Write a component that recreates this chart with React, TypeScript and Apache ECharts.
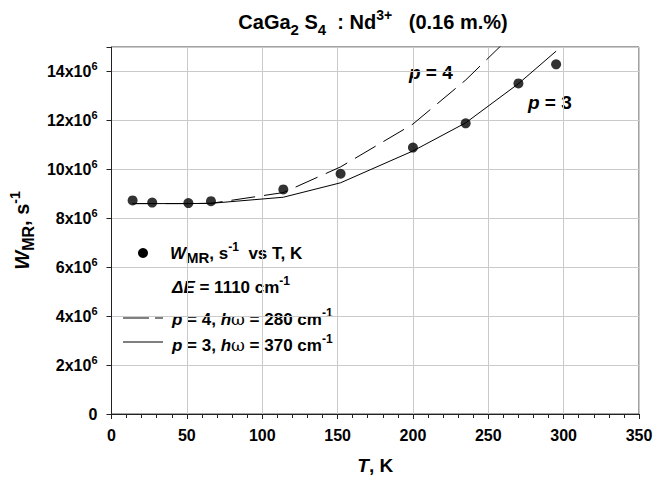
import React, { useEffect, useRef } from "react";
import * as echarts from "echarts";

const FONT = '"Liberation Sans", Arial, Helvetica, sans-serif';

// Measured points: T (K) and W_MR (s^-1)
const tempK = [14, 27, 51, 66, 114, 152, 200, 235, 270, 295];
const wMR = [8.73e6, 8.64e6, 8.62e6, 8.7e6, 9.18e6, 9.82e6, 10.89e6, 11.88e6, 13.51e6, 14.29e6];

// Fit curve p = 3 (solid)
const p3T = [14, 27, 51, 66, 114, 152, 200, 235, 270, 295];
const p3W = [8.6e6, 8.6e6, 8.6e6, 8.61e6, 8.86e6, 9.45e6, 10.75e6, 11.9e6, 13.5e6, 14.83e6];

// Fit curve p = 4 (dashed)
const p4T = [14, 27, 51, 66, 114, 152, 200, 235, 270];
const p4W = [8.6e6, 8.6e6, 8.6e6, 8.61e6, 9.05e6, 10.1e6, 11.85e6, 13.65e6, 15.75e6];

const xTicks = [0, 50, 100, 150, 200, 250, 300, 350];
const yTickStep = 2e6;

const pairs = (xs: number[], ys: number[]) => xs.map((x, i) => [x, ys[i]]);

const bold = { fontFamily: FONT, fontWeight: "bold" as const, color: "#000" };

export default function App() {
  const ref = useRef<HTMLDivElement>(null);

  useEffect(() => {
    if (!ref.current) return;
    const chart = echarts.init(ref.current, undefined, { renderer: "svg" });

    const legRich = {
      n: { ...bold, fontSize: 17, lineHeight: 24, verticalAlign: "middle" },
      i: { ...bold, fontStyle: "italic", fontSize: 17, lineHeight: 24, verticalAlign: "middle" },
      w: { fontFamily: "DejaVu Serif, serif", color: "#000", fontSize: 17, lineHeight: 24, verticalAlign: "middle" },
      sub: { ...bold, fontSize: 15, lineHeight: 12, verticalAlign: "bottom" },
      sup: { ...bold, fontSize: 12, lineHeight: 15, verticalAlign: "top" },
    };

    chart.setOption({
      animation: false,
      backgroundColor: "#fff",
      grid: {
        left: 107,
        right: 28,
        top: 47,
        bottom: 61,
        show: true,
        borderColor: "#444",
        borderWidth: 1,
        backgroundColor: "transparent",
      },
      xAxis: {
        type: "value",
        min: xTicks[0],
        max: xTicks[xTicks.length - 1],
        interval: 50,
        name: "{i|T}{n|, K}",
        nameLocation: "middle",
        nameGap: 42,
        nameTextStyle: {
          rich: {
            i: { ...bold, fontStyle: "italic", fontSize: 19 },
            n: { ...bold, fontSize: 19 },
          },
        },
        axisLine: { show: true, lineStyle: { color: "#222", width: 1 } },
        axisTick: { show: true, inside: false, length: 5, lineStyle: { color: "#222" } },
        minorTick: { show: true, splitNumber: 5, length: 4, lineStyle: { color: "#222" } },
        axisLabel: { ...bold, fontSize: 16, margin: 13 },
        splitLine: { show: true, lineStyle: { color: "#cacaca", width: 1 } },
      },
      yAxis: {
        type: "value",
        min: 0,
        max: 15e6,
        interval: yTickStep,
        name: "{i|W}{sub|MR}{n|, s}{sup|-1}",
        nameLocation: "middle",
        nameRotate: 90,
        nameGap: 65,
        nameTextStyle: {
          rich: {
            i: { ...bold, fontStyle: "italic", fontSize: 20, lineHeight: 28, verticalAlign: "middle" },
            n: { ...bold, fontSize: 20, lineHeight: 28, verticalAlign: "middle" },
            sub: { ...bold, fontSize: 16, lineHeight: 14, verticalAlign: "bottom" },
            sup: { ...bold, fontSize: 14, lineHeight: 16, verticalAlign: "top" },
          },
        },
        axisLine: { show: true, lineStyle: { color: "#222", width: 1 } },
        axisTick: { show: true, inside: false, length: 5, lineStyle: { color: "#222" } },
        axisLabel: {
          margin: 14,
          formatter: (v: number) => {
            if (v === 0) return "{b|0}";
            if (Math.abs(v % yTickStep) > 1) return "";
            return `{b|${Math.round(v / 1e6)}x10}{s|6}`;
          },
          rich: {
            b: { ...bold, fontSize: 16, lineHeight: 22, verticalAlign: "middle" },
            s: { ...bold, fontSize: 11, lineHeight: 12, verticalAlign: "top" },
          },
        },
        splitLine: { show: true, lineStyle: { color: "#cacaca", width: 1 } },
      },
      series: [
        {
          type: "line",
          name: "p = 3",
          data: pairs(p3T, p3W),
          showSymbol: false,
          lineStyle: { color: "#000", width: 1 },
          z: 3,
        },
        {
          type: "line",
          name: "p = 4",
          data: pairs(p4T, p4W),
          showSymbol: false,
          lineStyle: { color: "#000", width: 1, type: [24, 9] },
          z: 3,
        },
        {
          type: "scatter",
          name: "W",
          data: pairs(tempK, wMR),
          symbol: "circle",
          symbolSize: 10,
          itemStyle: { color: "#000" },
          z: 5,
        },
      ],
      graphic: [
        {
          type: "text",
          x: 373,
          y: 22,
          style: {
            text: "{n|CaGa}{sub|2}{n| S}{sub|4}{n|  : Nd}{sup|3+}{n|   (0.16 m.%)}",
            align: "center",
            verticalAlign: "middle",
            rich: {
              n: { ...bold, fontSize: 20, lineHeight: 29, verticalAlign: "middle" },
              sub: { ...bold, fontSize: 15, lineHeight: 12, verticalAlign: "bottom" },
              sup: { ...bold, fontSize: 14, lineHeight: 19, verticalAlign: "top" },
            },
          },
        },
        // legend
        { type: "circle", shape: { cx: 143, cy: 253, r: 5 }, style: { fill: "#000" } },
        {
          type: "text",
          x: 170,
          y: 253,
          style: {
            text: "{i|W}{sub|MR}{n|, s}{sup|-1}{n|  vs T, K}",
            verticalAlign: "middle",
            rich: legRich,
          },
        },
        {
          type: "text",
          x: 172,
          y: 287,
          style: {
            text: "{i|ΔE}{n| = 1110 cm}{sup|-1}",
            verticalAlign: "middle",
            rich: legRich,
          },
        },
        {
          type: "line",
          shape: { x1: 123, y1: 318, x2: 163, y2: 318 },
          style: { stroke: "#000", lineWidth: 1, lineDash: [26, 6] },
        },
        {
          type: "text",
          x: 172,
          y: 319,
          style: {
            text: "{i|p}{n| = 4, }{i|h}{w|ω}{n| = 280 cm}{sup|-1}",
            verticalAlign: "middle",
            rich: legRich,
          },
        },
        {
          type: "line",
          shape: { x1: 123, y1: 342, x2: 163, y2: 342 },
          style: { stroke: "#000", lineWidth: 1 },
        },
        {
          type: "text",
          x: 172,
          y: 345,
          style: {
            text: "{i|p}{n| = 3, }{i|h}{w|ω}{n| = 370 cm}{sup|-1}",
            verticalAlign: "middle",
            rich: legRich,
          },
        },
        // curve annotations
        {
          type: "text",
          x: 409,
          y: 72,
          style: {
            text: "{i|p}{n| = 4}",
            verticalAlign: "middle",
            rich: {
              i: { ...bold, fontStyle: "italic", fontSize: 19 },
              n: { ...bold, fontSize: 19 },
            },
          },
        },
        {
          type: "text",
          x: 528,
          y: 102,
          style: {
            text: "{i|p}{n| = 3}",
            verticalAlign: "middle",
            rich: {
              i: { ...bold, fontStyle: "italic", fontSize: 19 },
              n: { ...bold, fontSize: 19 },
            },
          },
        },
      ],
    });

    return () => chart.dispose();
  }, []);

  return <div ref={ref} style={{ width: 667, height: 480, position: "absolute", left: 0, top: 0 }} />;
}
